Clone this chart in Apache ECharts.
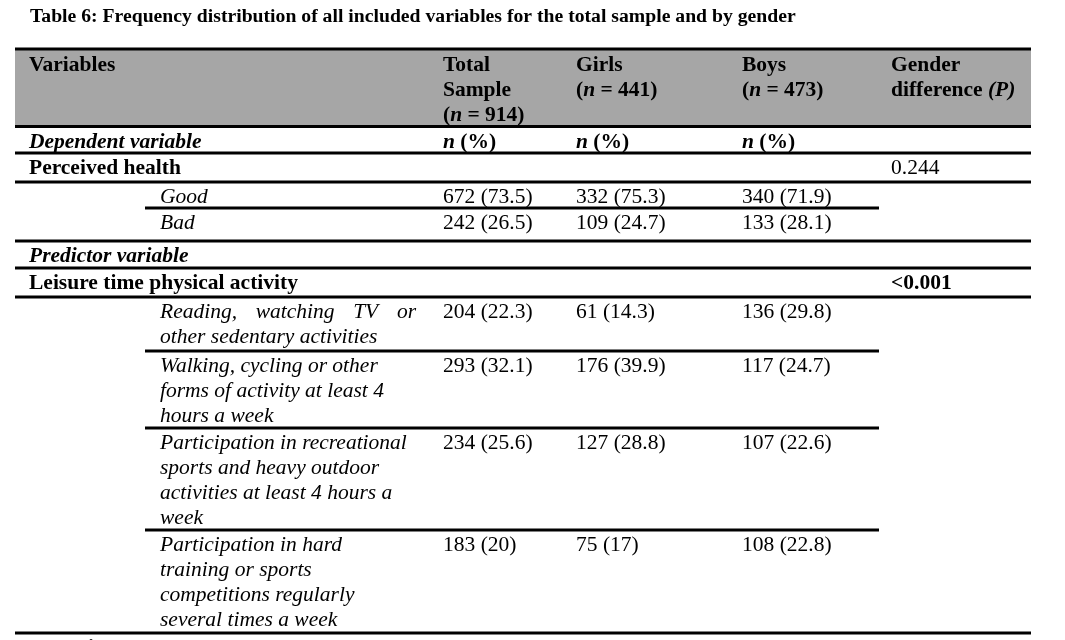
<!DOCTYPE html>
<html><head><meta charset="utf-8">
<script src="https://cdn.jsdelivr.net/npm/echarts@6/dist/echarts.min.js"></script>
<style>html,body{margin:0;padding:0;background:#fff}#chart{width:1065px;height:640px}</style>
</head><body><div id="chart"></div>
<script>
// ---------------- data ----------------
const titleText = 'Table 6: Frequency distribution of all included variables for the total sample and by gender';
const columnHeaders = ['Variables', 'Total Sample', 'Girls', 'Boys', 'Gender difference'];
const sampleSizes = [914, 441, 473];
const unitLabel = 'n (%)';
const rowLabels = [
  'Dependent variable',
  'Perceived health',
  'Good',
  'Bad',
  'Predictor variable',
  'Leisure time physical activity',
  'Reading, watching TV or\nother sedentary activities',
  'Walking, cycling or other\nforms of activity at least 4\nhours a week',
  'Participation in recreational\nsports and heavy outdoor\nactivities at least 4 hours a\nweek',
  'Participation in hard\ntraining or sports\ncompetitions regularly\nseveral times a week'
];
const rowKinds = ['section', 'group', 'item', 'item', 'section', 'group', 'item', 'item', 'item', 'item'];
const totalN   = [null, null, 672, 242, null, null, 204, 293, 234, 183];
const totalPct = [null, null, 73.5, 26.5, null, null, 22.3, 32.1, 25.6, 20];
const girlsN   = [null, null, 332, 109, null, null, 61, 176, 127, 75];
const girlsPct = [null, null, 75.3, 24.7, null, null, 14.3, 39.9, 28.8, 17];
const boysN    = [null, null, 340, 133, null, null, 136, 117, 107, 108];
const boysPct  = [null, null, 71.9, 28.1, null, null, 29.8, 24.7, 22.6, 22.8];
const pValues  = [null, '0.244', null, null, null, '<0.001', null, null, null, null];
const footLabel = 'Covariates';

// ---------------- layout ----------------
const W = 1065, H = 640;
const FONT = '"Liberation Serif", "Times New Roman", Times, serif';
const FS = 21.5;
const COL = { label: 29, item: 160, total: 443, girls: 576, boys: 742, p: 891 };
const TABLE_X = [15, 1031];
const PART_X = [145, 879];
const HEAD_TOP = 49, HEAD_BOTTOM = 126.5;
const HEAD_FIRST = 16.5, LINE_H = 24.8, FIRST = 15.5;
const ROW_H = [26.5, 29, 26, 33, 27, 29, 54, 77, 102, 103];
const RULES = ['full', 'full', 'part', 'full', 'full', 'full', 'part', 'part', 'part', 'full'];
const JUSTIFY = [false, false, false, false, false, false, true, false, false, false];
const JUSTIFY_W = 256;
const GRAY = '#a6a6a6';

const rowTops = [];
{ let y = HEAD_BOTTOM; ROW_H.forEach(h => { rowTops.push(y); y += h; }); }

const measureCtx = document.createElement('canvas').getContext('2d');
function measure(str, st) {
  measureCtx.font = (st.fontStyle || 'normal') + ' ' + (st.fontWeight || 'normal') + ' ' + FS + 'px ' + FONT;
  return measureCtx.measureText(str).width;
}
const R = {
  b: { fontWeight: 'bold', fontSize: FS, fontFamily: FONT, fill: '#000' },
  bi: { fontWeight: 'bold', fontStyle: 'italic', fontSize: FS, fontFamily: FONT, fill: '#000' },
  i: { fontStyle: 'italic', fontSize: FS, fontFamily: FONT, fill: '#000' },
  r: { fontSize: FS, fontFamily: FONT, fill: '#000' }
};

function textEl(api, x, y, str, st) {
  const p = api.coord([x, y]);
  return {
    type: 'text',
    style: Object.assign({ text: str, x: p[0], y: p[1], align: 'left', verticalAlign: 'middle',
      fontSize: FS, fontFamily: FONT, fill: '#000', rich: R }, st || {})
  };
}
function ruleEl(api, x1, x2, y, t) {
  const a = api.coord([x1, y]), b = api.coord([x2, y]);
  return { type: 'rect', shape: { x: a[0], y: a[1] - (t || 3) / 2, width: b[0] - a[0], height: t || 3 }, style: { fill: '#000' } };
}
function cell(n, pct) { return n == null ? null : n + ' (' + pct + ')'; }

function renderHeader(params, api) {
  const ch = [];
  const a = api.coord([TABLE_X[0], HEAD_TOP]), b = api.coord([TABLE_X[1], HEAD_BOTTOM]);
  ch.push({ type: 'rect', shape: { x: a[0], y: a[1], width: b[0] - a[0], height: b[1] - a[1] }, style: { fill: GRAY } });
  ch.push(ruleEl(api, TABLE_X[0], TABLE_X[1], HEAD_TOP));
  ch.push(ruleEl(api, TABLE_X[0], TABLE_X[1], HEAD_BOTTOM));
  const y0 = HEAD_TOP + HEAD_FIRST;
  const totalWords = columnHeaders[1].split(' ');
  const genderWords = columnHeaders[4].split(' ');
  const cols = [
    [COL.label, [columnHeaders[0]]],
    [COL.total, [totalWords[0], totalWords[1], '(' + '{bi|n}' + ' = ' + sampleSizes[0] + ')']],
    [COL.girls, [columnHeaders[2], '({bi|n} = ' + sampleSizes[1] + ')']],
    [COL.boys, [columnHeaders[3], '({bi|n} = ' + sampleSizes[2] + ')']],
    [COL.p, [genderWords[0], genderWords[1] + ' {bi|(P)}']]
  ];
  cols.forEach(([x, lines]) => {
    lines.forEach((ln, k) => {
      const segs = ln.replace(/\{bi\|([^}]*)\}/g, '\u0000$1\u0000').split('\u0000');
      const rich = segs.map((s, j) => j % 2 ? '{bi|' + s + '}' : (s ? '{b|' + s + '}' : '')).join('');
      ch.push(textEl(api, x, y0 + k * LINE_H, rich, { fontWeight: 'bold' }));
    });
  });
  return { type: 'group', children: ch };
}

function renderRow(params, api) {
  const i = api.value(0);
  const top = rowTops[i];
  const ch = [];
  const kind = rowKinds[i];
  const x0 = kind === 'item' ? COL.item : COL.label;
  const st = kind === 'section' ? { fontStyle: 'italic', fontWeight: 'bold' }
           : kind === 'group' ? { fontWeight: 'bold' } : { fontStyle: 'italic' };
  const lines = rowLabels[i].split('\n');
  lines.forEach((ln, k) => {
    const y = top + FIRST + k * LINE_H;
    if (JUSTIFY[i] && k < lines.length - 1) {
      const words = ln.split(' ');
      const ws = words.map(w => measure(w, st));
      const gap = (JUSTIFY_W - ws.reduce((s, v) => s + v, 0)) / (words.length - 1);
      let x = x0;
      words.forEach((w, j) => { ch.push(textEl(api, x, y, w, st)); x += ws[j] + gap; });
    } else {
      ch.push(textEl(api, x0, y, ln, st));
    }
  });
  const y1 = top + FIRST;
  if (i === 0) {
    const u = unitLabel.split(' ');
    [COL.total, COL.girls, COL.boys].forEach(x => ch.push(textEl(api, x, y1, '{bi|' + u[0] + '}{b| ' + u[1] + '}')));
  }
  [[COL.total, cell(totalN[i], totalPct[i])], [COL.girls, cell(girlsN[i], girlsPct[i])], [COL.boys, cell(boysN[i], boysPct[i])]]
    .forEach(([x, s]) => { if (s) ch.push(textEl(api, x, y1, s)); });
  if (pValues[i]) {
    const sig = pValues[i].charAt(0) === '<' || parseFloat(pValues[i]) < 0.05;
    ch.push(textEl(api, COL.p, y1, pValues[i], sig ? { fontWeight: 'bold' } : {}));
  }
  const rx = RULES[i] === 'full' ? TABLE_X : PART_X;
  ch.push(ruleEl(api, rx[0], rx[1], top + ROW_H[i]));
  return { type: 'group', children: ch };
}

function renderFoot(params, api) {
  const y = rowTops[rowTops.length - 1] + ROW_H[ROW_H.length - 1] + FIRST;
  return textEl(api, 33, y, footLabel, { fontStyle: 'italic', fontWeight: 'bold' });
}

const chart = echarts.init(document.getElementById('chart'), null, { renderer: 'canvas', width: W, height: H });
chart.setOption({
  animation: false,
  backgroundColor: '#fff',
  title: {
    text: titleText, left: 30, top: 7, padding: 0,
    textStyle: { fontFamily: FONT, fontWeight: 'bold', fontSize: 19.7, color: '#000' }
  },
  grid: { left: 0, right: 0, top: 0, bottom: 0 },
  xAxis: { type: 'value', min: 0, max: W, show: false },
  yAxis: { type: 'value', min: 0, max: H, inverse: true, show: false },
  series: [
    { type: 'custom', clip: false, silent: true, data: [[0, 0]], renderItem: renderHeader },
    { type: 'custom', clip: false, silent: true, data: rowLabels.map((_, i) => [i, i]), renderItem: renderRow },
    { type: 'custom', clip: false, silent: true, data: [[0, 0]], renderItem: renderFoot }
  ]
});
</script></body></html>
